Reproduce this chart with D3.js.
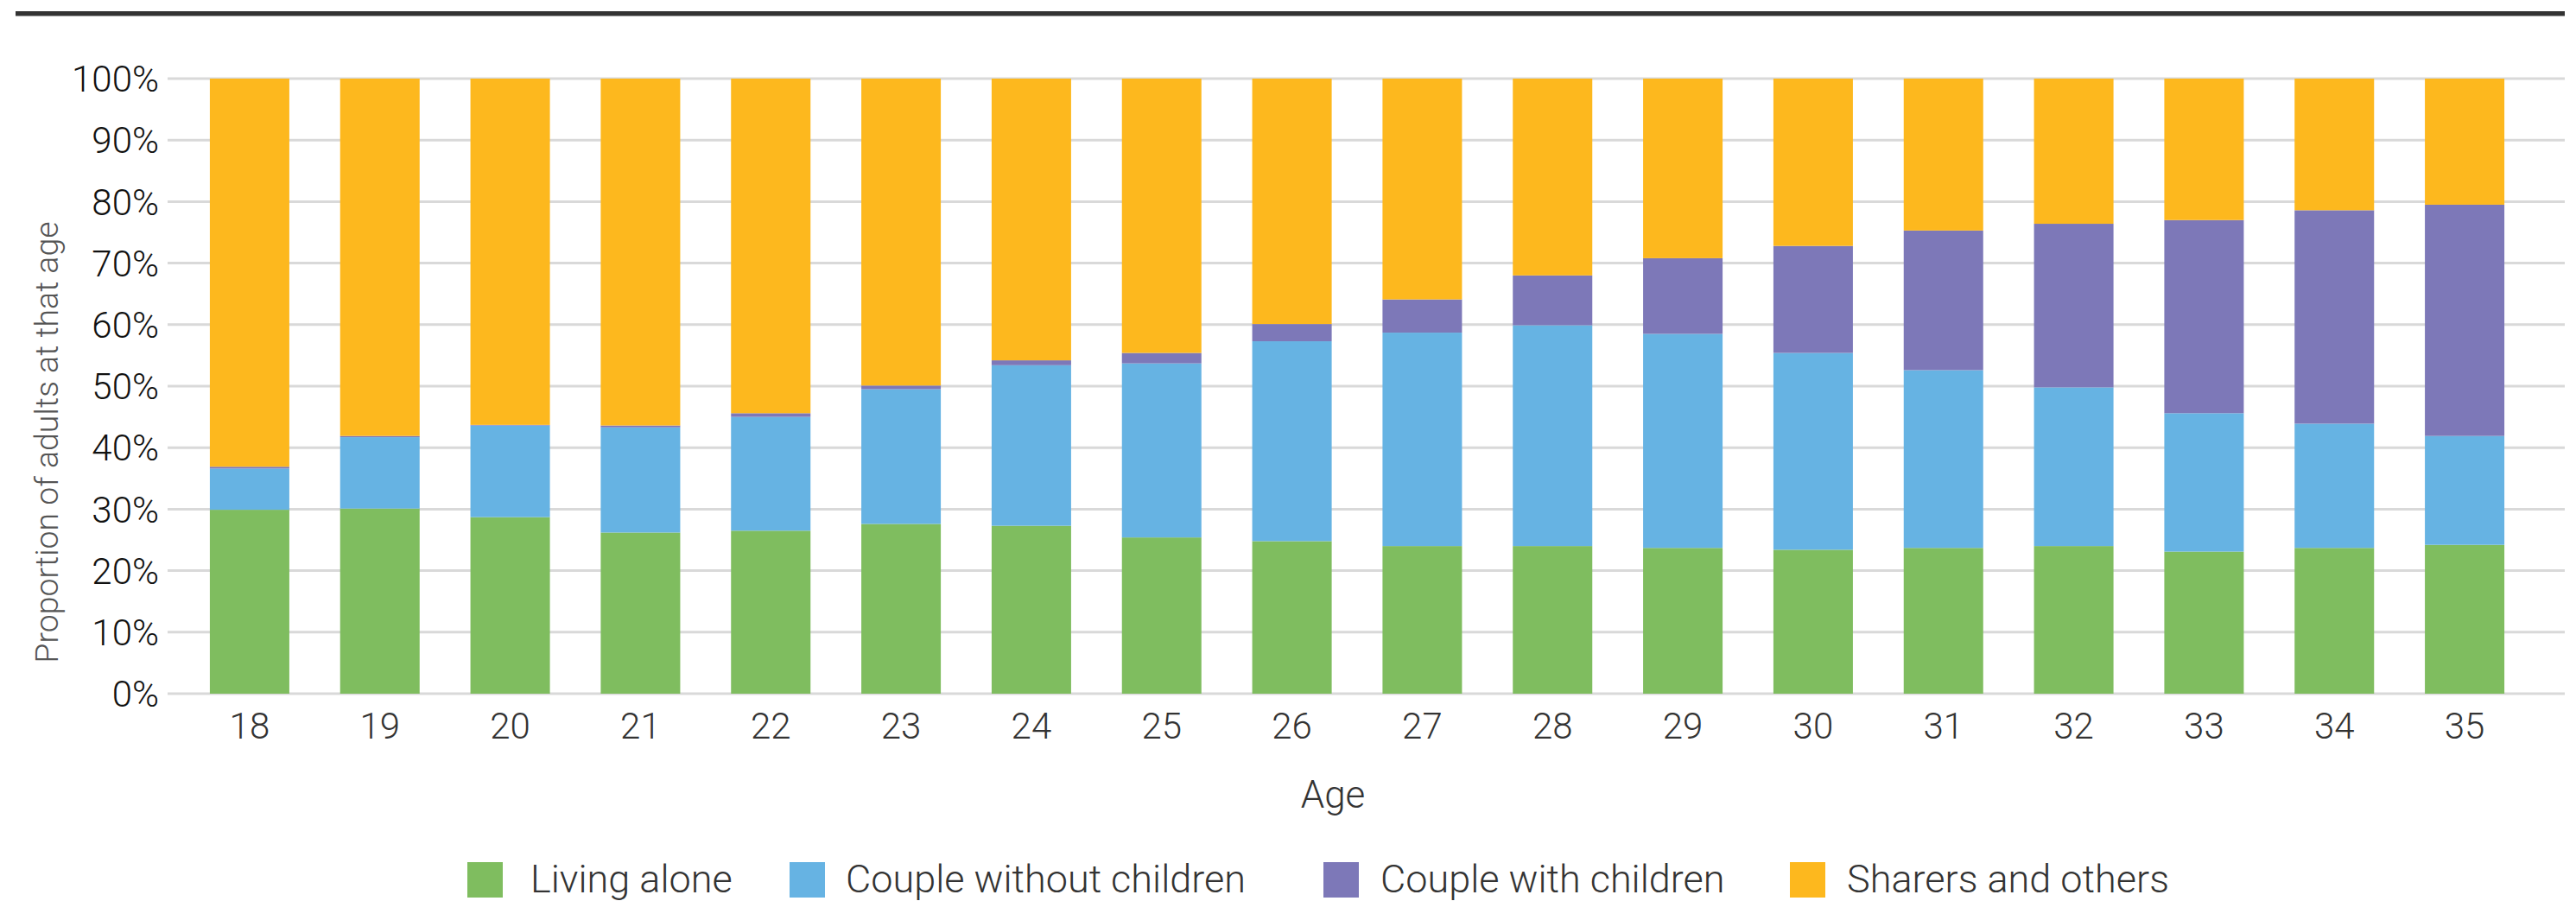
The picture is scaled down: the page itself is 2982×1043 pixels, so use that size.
<!DOCTYPE html>
<html>
<head>
<meta charset="utf-8">
<script src="https://cdn.jsdelivr.net/npm/d3@7"></script>
<style>
  html, body { margin: 0; padding: 0; background: #fff; }
  svg { display: block; font-family: Roboto, "Liberation Sans", sans-serif; }
</style>
</head>
<body>
<svg id="chart" width="2982" height="1043"></svg>
<script>
const ages = ["18","19","20","21","22","23","24","25","26","27","28","29","30","31","32","33","34","35"];
const seriesNames = ["Living alone", "Couple without children", "Couple with children", "Sharers and others"];
const livingAlone = [29.9, 30.1, 28.7, 26.2, 26.5, 27.6, 27.3, 25.4, 24.8, 24.0, 24.0, 23.7, 23.4, 23.7, 24.0, 23.1, 23.7, 24.2];
const coupleWithout = [6.7, 11.6, 14.9, 17.1, 18.5, 21.9, 26.1, 28.3, 32.5, 34.7, 35.9, 34.8, 32.0, 28.9, 25.8, 22.5, 20.2, 17.7];
const coupleWith = [0.3, 0.2, 0.1, 0.3, 0.6, 0.6, 0.8, 1.7, 2.8, 5.4, 8.1, 12.3, 17.4, 22.7, 26.6, 31.4, 34.7, 37.6];
const sharers = [63.1, 58.1, 56.3, 56.4, 54.4, 49.9, 45.8, 44.6, 39.9, 35.9, 32.0, 29.2, 27.2, 24.7, 23.6, 23.0, 21.4, 20.5];
const yTicks = [0, 10, 20, 30, 40, 50, 60, 70, 80, 90, 100];
const colors = ["#7fbd5f", "#66b3e3", "#7d78b8", "#fdb81e"];

const seriesValues = [livingAlone, coupleWithout, coupleWith, sharers];
const rows = ages.map((a, i) => {
  const r = { age: a };
  seriesNames.forEach((s, k) => r[s] = seriesValues[k][i]);
  return r;
});

const svg = d3.select("#chart");

// top rule
svg.append("rect").attr("x", 18).attr("y", 13).attr("width", 2951).attr("height", 5.5).attr("fill", "#333");

const x = d3.scaleBand().domain(ages).range([213.5, 2928.5]).paddingInner(0.39).paddingOuter(0.195);
const y = d3.scaleLinear().domain([0, 100]).range([803, 91]);

// gridlines
svg.append("g").selectAll("line").data(yTicks).join("line")
  .attr("x1", 194).attr("x2", 2969)
  .attr("y1", d => y(d)).attr("y2", d => y(d))
  .attr("stroke", "#d9d9d9").attr("stroke-width", 3);

// y tick labels
svg.append("g").selectAll("text").data(yTicks).join("text")
  .attr("x", 184).attr("y", d => y(d)).attr("dy", "0.36em")
  .attr("text-anchor", "end").attr("font-size", 42).attr("font-weight", 300)
  .attr("fill", "#111").text(d => d + "%");

// stacked bars
const stack = d3.stack().keys(seriesNames);
const stacked = stack(rows);
svg.append("g").selectAll("g").data(stacked).join("g")
  .attr("fill", (d, i) => colors[i])
  .selectAll("rect").data(d => d).join("rect")
  .attr("x", d => x(d.data.age))
  .attr("width", x.bandwidth())
  .attr("y", d => y(d[1]))
  .attr("height", d => y(d[0]) - y(d[1]));

// x tick labels
svg.append("g").selectAll("text").data(ages).join("text")
  .attr("x", d => x(d) + x.bandwidth() / 2).attr("y", 855)
  .attr("text-anchor", "middle").attr("font-size", 42).attr("font-weight", 300)
  .attr("fill", "#333").text(d => d);

// axis titles
svg.append("text").attr("x", 1543).attr("y", 935).attr("text-anchor", "middle")
  .attr("font-size", 44).attr("font-weight", 300).attr("fill", "#333").text("Age");
svg.append("text").attr("transform", "translate(67,512) rotate(-90)")
  .attr("text-anchor", "middle").attr("font-size", 37.5).attr("font-weight", 300)
  .attr("fill", "#555").text("Proportion of adults at that age");

// legend
const legX = [541, 914, 1532, 2072];
const leg = svg.append("g").selectAll("g").data(seriesNames).join("g")
  .attr("transform", (d, i) => `translate(${legX[i]},998)`);
leg.append("rect").attr("width", 41).attr("height", 41).attr("fill", (d, i) => colors[i]);
leg.append("text").attr("x", d => d === "Couple without children" ? 65 : (d === "Living alone" ? 73 : 66)).attr("y", 35)
  .attr("font-size", 45).attr("font-weight", 300).attr("fill", "#333").text(d => d);
</script>
</body>
</html>
